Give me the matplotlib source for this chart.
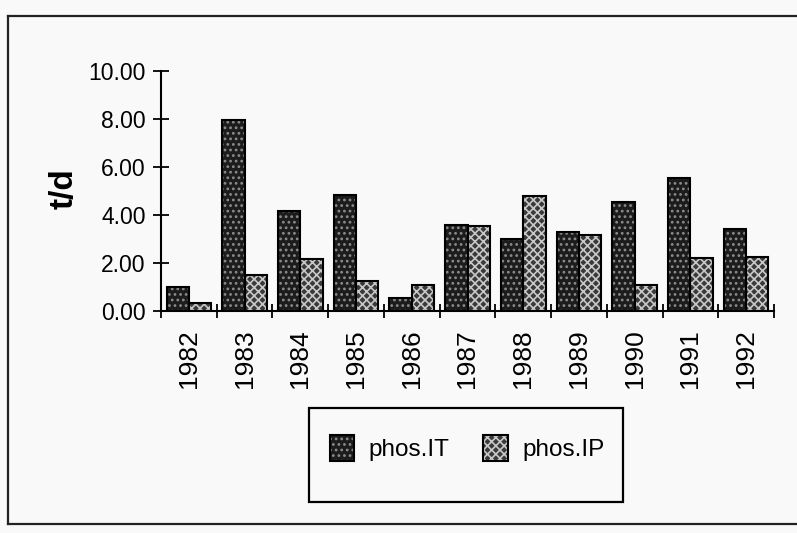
import matplotlib
matplotlib.use("Agg")
import matplotlib.pyplot as plt
import numpy as np
from matplotlib.lines import Line2D
from matplotlib.patches import Rectangle, Patch
from matplotlib.legend_handler import HandlerTuple

years = ["1982", "1983", "1984", "1985", "1986", "1987", "1988", "1989", "1990", "1991", "1992"]
phos_IT = [1.0, 7.95, 4.15, 4.85, 0.55, 3.6, 3.0, 3.3, 4.55, 5.55, 3.4]
phos_IP = [0.35, 1.5, 2.15, 1.25, 1.1, 3.55, 4.8, 3.15, 1.1, 2.2, 2.25]
yticks = [0, 2, 4, 6, 8, 10]

plt.rcParams['font.family'] = ['Liberation Sans', 'DejaVu Sans']
plt.rcParams['hatch.linewidth'] = 1.2

W, H = 797, 533
fig = plt.figure(figsize=(W / 100, H / 100), dpi=100, facecolor='#f9f9f9')
ax = fig.add_axes([161 / W, 1 - 311 / H, (774 - 161) / W, (311 - 71) / H])
ax.set_facecolor('none')

x = np.arange(len(years))
bw = 0.4

it_face, it_hatch = '#1c1c1c', '#8c8c8c'
ip_face, ip_hatch = '#3a3a3a', '#c8c8c8'

ax.bar(x - bw / 2, phos_IT, bw, color=it_face, edgecolor=it_hatch, hatch='...', linewidth=0, zorder=2)
ax.bar(x - bw / 2, phos_IT, bw, fill=False, edgecolor='black', linewidth=1.5, zorder=3)
ax.bar(x + bw / 2, phos_IP, bw, color=ip_face, edgecolor=ip_hatch, hatch='xxxx', linewidth=0, zorder=2)
ax.bar(x + bw / 2, phos_IP, bw, fill=False, edgecolor='black', linewidth=1.5, zorder=3)

ax.set_xlim(-0.5, len(years) - 0.5)
ax.set_ylim(0, 10)

for s in ['top', 'right']:
    ax.spines[s].set_visible(False)
for s in ['left', 'bottom']:
    ax.spines[s].set_linewidth(1.5)
    ax.spines[s].set_zorder(4)

ax.set_yticks(yticks)
ax.set_yticklabels([f"{v:.2f}" for v in yticks], fontsize=16.5)
ax.tick_params(axis='y', direction='inout', length=12, width=1.3, pad=5)

ax.set_xticks(x)
ax.set_xticklabels(years, rotation=90, fontsize=19)
ax.tick_params(axis='x', which='major', length=0, pad=13)
ax.set_xticks(np.arange(len(years) + 1) - 0.5, minor=True)
ax.tick_params(axis='x', which='minor', direction='inout', length=10, width=1.3)

fig.text(64 / W, 1 - 189 / H, "t/d", rotation=90, fontsize=24, fontweight='bold',
         ha='center', va='center')

# legend
h_it = (Patch(facecolor=it_face, edgecolor=it_hatch, hatch='...', linewidth=0),
        Patch(fill=False, edgecolor='black', linewidth=1.5))
h_ip = (Patch(facecolor=ip_face, edgecolor=ip_hatch, hatch='xxxx', linewidth=0),
        Patch(fill=False, edgecolor='black', linewidth=1.5))
leg = fig.legend([h_it, h_ip], ['phos.IT', 'phos.IP'], loc='center',
                 bbox_to_anchor=(467 / W, 1 - 448 / H),
                 handler_map={tuple: HandlerTuple(ndivide=1, pad=0)},
                 ncol=2, frameon=False, fontsize=17.5, handlelength=1.0, handleheight=1.25,
                 handletextpad=0.6, columnspacing=1.4)
fig.patches.append(Rectangle((309 / W, 1 - 502 / H), (623 - 309) / W, (502 - 408) / H,
                             transform=fig.transFigure, fill=False, edgecolor='black',
                             linewidth=1.6))

# outer border
def fline(xs, ys):
    fig.lines.append(Line2D([v / W for v in xs], [1 - v / H for v in ys],
                            transform=fig.transFigure, color='#222', linewidth=1.6))

fline([8, 8], [16, 524])
fline([8, 797], [16, 16])
fline([8, 797], [524, 524])

fig.savefig("out.png", dpi=100, facecolor=fig.get_facecolor())
